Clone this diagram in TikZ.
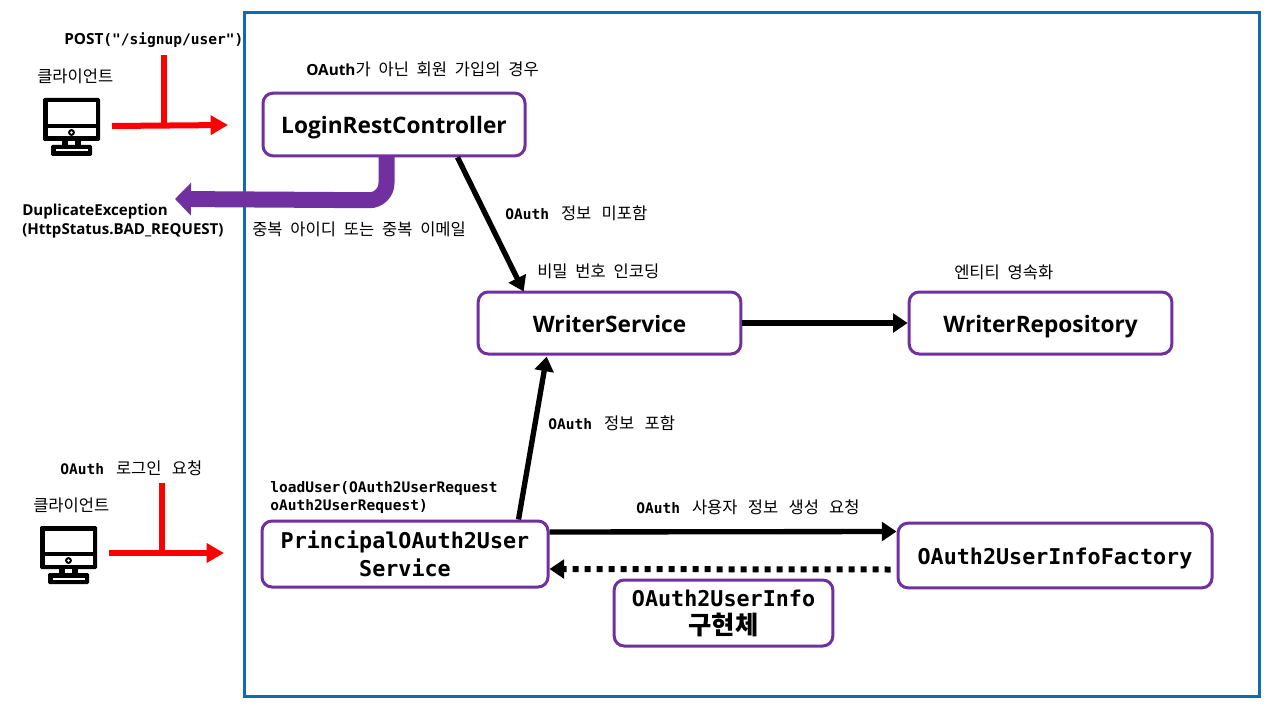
\documentclass[tikz,border=0pt]{standalone}
\usepackage{fontspec}
\setmainfont{Open Sans}
\newfontfamily\kr{Noto Sans CJK KR}
\newfontfamily\mn{DejaVu Sans Mono}
\usetikzlibrary{arrows.meta,calc}
\definecolor{framecol}{HTML}{0F6CB2}
\definecolor{purp}{HTML}{7030A0}
\definecolor{redl}{HTML}{FF0000}
\tikzset{
  box/.style={draw=purp,line width=2.25pt,rounded corners=7.5pt,fill=white,align=center,inner sep=0pt},
  lab/.style={anchor=west,inner sep=0pt,align=left,text=black},
  blk/.style={draw=black,line width=4pt,-{Triangle[length=11pt,width=14pt]}},
  redarrow/.style={draw=redl,line width=4.5pt},
  bigm/.style={font={\mn\fontsize{16.3pt}{21pt}\selectfont\bfseries}},
  bigl/.style={font={\fontsize{17pt}{21pt}\selectfont\bfseries},text height=14pt,text depth=0pt},
  monitor/.pic={
    \fill[black,rounded corners=1pt] (0,0) rectangle (57,43);
    \fill[white] (4.5,4.5) rectangle (52.5,26);
    \fill[white] (4.5,30) rectangle (52.5,38.5);
    \fill[black] (28.5,34.5) circle (2.6pt);
    \fill[white] (28.5,34.5) circle (1.1pt);
    \fill[black] (19,43) rectangle (38,47);
    \fill[white] (25,43) rectangle (32,47);
    \fill[black,rounded corners=1pt] (8,47) rectangle (49,58);
    \fill[white] (12.5,51.5) rectangle (44.5,53.5);
  }
}
\newcommand\smB[1]{{\fontsize{11.5pt}{14pt}\selectfont\bfseries #1}}
\newcommand\smM[1]{{\mn\fontsize{10.9pt}{13pt}\selectfont\bfseries #1}}
\newcommand\smK[1]{{\kr\fontsize{12.4pt}{15pt}\selectfont\spaceskip=.47em #1}}
\newcommand\smKw[1]{\hspace{9pt}{\kr\fontsize{12.4pt}{15pt}\selectfont\spaceskip=.62em #1}}
\begin{document}
\begin{tikzpicture}[x=0.75pt,y=-0.75pt]
\useasboundingbox (0,0) rectangle (1280,720);
\fill[white] (0,0) rectangle (1280,720);
\draw[framecol,line width=2.25pt] (244,13) rectangle (1259,696);

% boxes
\node[box,bigl,minimum width=196.5pt,minimum height=47pt] (login) at (394,124.5) {LoginRestController};
\node[box,bigl,minimum width=197pt,minimum height=46.5pt] (writer) at (609.5,323) {WriterService};
\node[box,bigl,minimum width=197pt,minimum height=46.5pt] (repo) at (1040.5,323) {WriterRepository};
\node[box,bigm,minimum width=214.5pt,minimum height=49.5pt] (princ) at (405,554) {PrincipalOAuth2User\\Service};
\node[box,bigm,text height=13pt,text depth=0pt,minimum width=235.5pt,minimum height=48.5pt] (factory) at (1055,555.5) {OAuth2UserInfoFactory};
\node[box,bigm,minimum width=164pt,minimum height=49.5pt] (impl) at (723.5,613) {\raisebox{-1.5pt}{OAuth2UserInfo}\\[1.5pt]{\kr\fontsize{19pt}{21pt}\selectfont\bfseries 구현체}};

% icons
\pic at (43,98) {monitor};
\pic at (40,526) {monitor};

% red arrows
\coordinate (r1s) at (112,126);
\coordinate (r1e) at (228,125);
\coordinate (r1t) at (164,55);
\coordinate (r1j) at (164,126);
\draw[redarrow,-{Triangle[length=13pt,width=14pt]}] (r1s) -- (r1e);
\draw[redarrow] (r1t) -- (r1j);
\coordinate (r2s) at (109,553);
\coordinate (r2e) at (224,553);
\coordinate (r2t) at (161.5,483);
\coordinate (r2j) at (161.5,553);
\draw[redarrow,-{Triangle[length=13pt,width=14pt]}] (r2s) -- (r2e);
\draw[redarrow] (r2t) -- (r2j);

% purple return arrow
\coordinate (dupl) at (175,199);
\draw[draw=purp,line width=12pt,rounded corners=13pt,-{Triangle[length=12pt,width=24pt]}]
  ($(login.south west)+(125,-1)$) -- ($(login.south west)+(125,43)$) -- (dupl);

% black connectors
\draw[blk] ($(login.south west)+(196,0)$) -- ($(writer.north west)+(47,1)$);
\draw[blk] (writer.east) -- (repo.west);
\draw[blk] ($(princ.north west)+(258,0)$) -- ($(writer.south west)+(70,1)$);
\draw[blk] ($(princ.east)+(0,-22)$) -- ($(factory.west)+(0,-24)$);
\draw[draw=black,line width=4.5pt,dash pattern=on 4.5pt off 4.5pt,-{Triangle[length=11pt,width=14pt]}] ($(factory.west)+(-6,14)$) -- ($(princ.east)+(0,15)$);

% labels
\node[lab] (t1) at (64,40) {\smB{POST}\smM{("/signup/user")}};
\node[lab] (t2) at (37,76) {\smK{클라이언트}};
\node[lab] (t3) at (33,505) {\smK{클라이언트}};
\node[lab] (t4) at (306,69) {\smB{OAuth}\smK{가 아닌 회원 가입의 경우}};
\node[lab] (t5) at (252,229) {\smK{중복 아이디 또는 중복 이메일}};
\node[lab,font={\fontsize{11.3pt}{14.4pt}\selectfont\bfseries}] (t6) at (22,221) {DuplicateException\\(HttpStatus.BAD\_REQUEST)};
\node[lab] (t7) at (505,213) {\smM{OAuth}\smKw{정보 미포함}};
\node[lab] (t8) at (537,271) {\smK{비밀 번호 인코딩}};
\node[lab] (t9) at (954,272) {\smK{엔티티 영속화}};
\node[lab] (t10) at (548,423) {\smM{OAuth}\smKw{정보 포함}};
\node[lab] (t11) at (60,468) {\smM{OAuth}\smKw{로그인 요청}};
\node[lab,font={\mn\fontsize{10.9pt}{13.5pt}\selectfont\bfseries}] (t12) at (270,497) {loadUser(OAuth2UserRequest\\oAuth2UserRequest)};
\node[lab] (t13) at (636,507) {\smM{OAuth}\smKw{사용자 정보 생성 요청}};
\end{tikzpicture}
\end{document}
